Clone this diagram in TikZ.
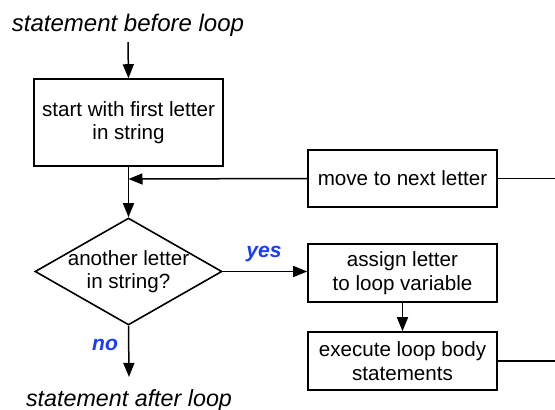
\documentclass[tikz,border=0pt]{standalone}
\usepackage{fontspec}
\setmainfont{Liberation Sans}
\usetikzlibrary{shapes.geometric,arrows.meta}
\definecolor{lblblue}{RGB}{25,60,255}
\begin{document}
\begin{tikzpicture}[x=1pt,y=-1pt,
  box/.style={draw, line width=1.6pt, minimum width=189pt, align=center, inner sep=0pt,
    font=\fontsize{20.6}{23.5}\selectfont},
  stmt/.style={font=\fontsize{24}{28}\selectfont\itshape, inner xsep=0pt},
  lbl/.style={font=\fontsize{21}{24}\selectfont\bfseries\itshape, text=lblblue, inner sep=0pt},
  arr/.style={line width=1.5pt, -{Triangle[length=14pt,width=11pt]}},
  ln/.style={line width=1.5pt}
]
\useasboundingbox (0,0) rectangle (555,410);

\node[stmt, anchor=base, inner ysep=6pt] (before) at (128,31) {statement before loop};
\node[box, minimum height=87pt] (start) at (128.5,122.5) {start with first letter\\in string};
\node[box, minimum height=57pt] (move) at (402.5,178.5) {move to next letter};
\coordinate (join) at (128.5,179);
\node[diamond, draw, line width=1.6pt, minimum width=187pt, minimum height=107pt, inner sep=0pt] (dec) at (128.5,271.5) {};
\node[inner sep=0pt, align=center, font=\fontsize{20.6}{23.5}\selectfont] (dectext) at (dec.center) {another letter\\in string?};
\node[box, minimum height=58pt] (assign) at (402.5,273) {assign letter\\to loop variable};
\node[box, minimum height=58pt] (exec) at (402.5,361) {execute loop body\\statements};
\node[stmt, font=\fontsize{23.3}{27}\selectfont\itshape, anchor=base, inner ysep=12pt] (after) at (129,406) {statement after loop};
\node[lbl, anchor=base] (yes) at (264,257) {yes};
\node[lbl, anchor=base] (no) at (105,350) {no};
\coordinate (moveout) at (556,178.5);
\coordinate (execout) at (556,361);

\draw[arr] (before.south) -- (start.north);
\draw[arr] (start.south) -- (dec.north);
\draw[arr] (move.west) -- (join);
\draw[ln] (move.east) -- (moveout);
\draw[arr] (dec.east) -- (assign.west |- dec.east);
\draw[arr] (assign.south) -- (exec.north);
\draw[ln] (exec.east) -- (execout);
\draw[arr] (dec.south) -- (after.north);
\end{tikzpicture}
\end{document}
